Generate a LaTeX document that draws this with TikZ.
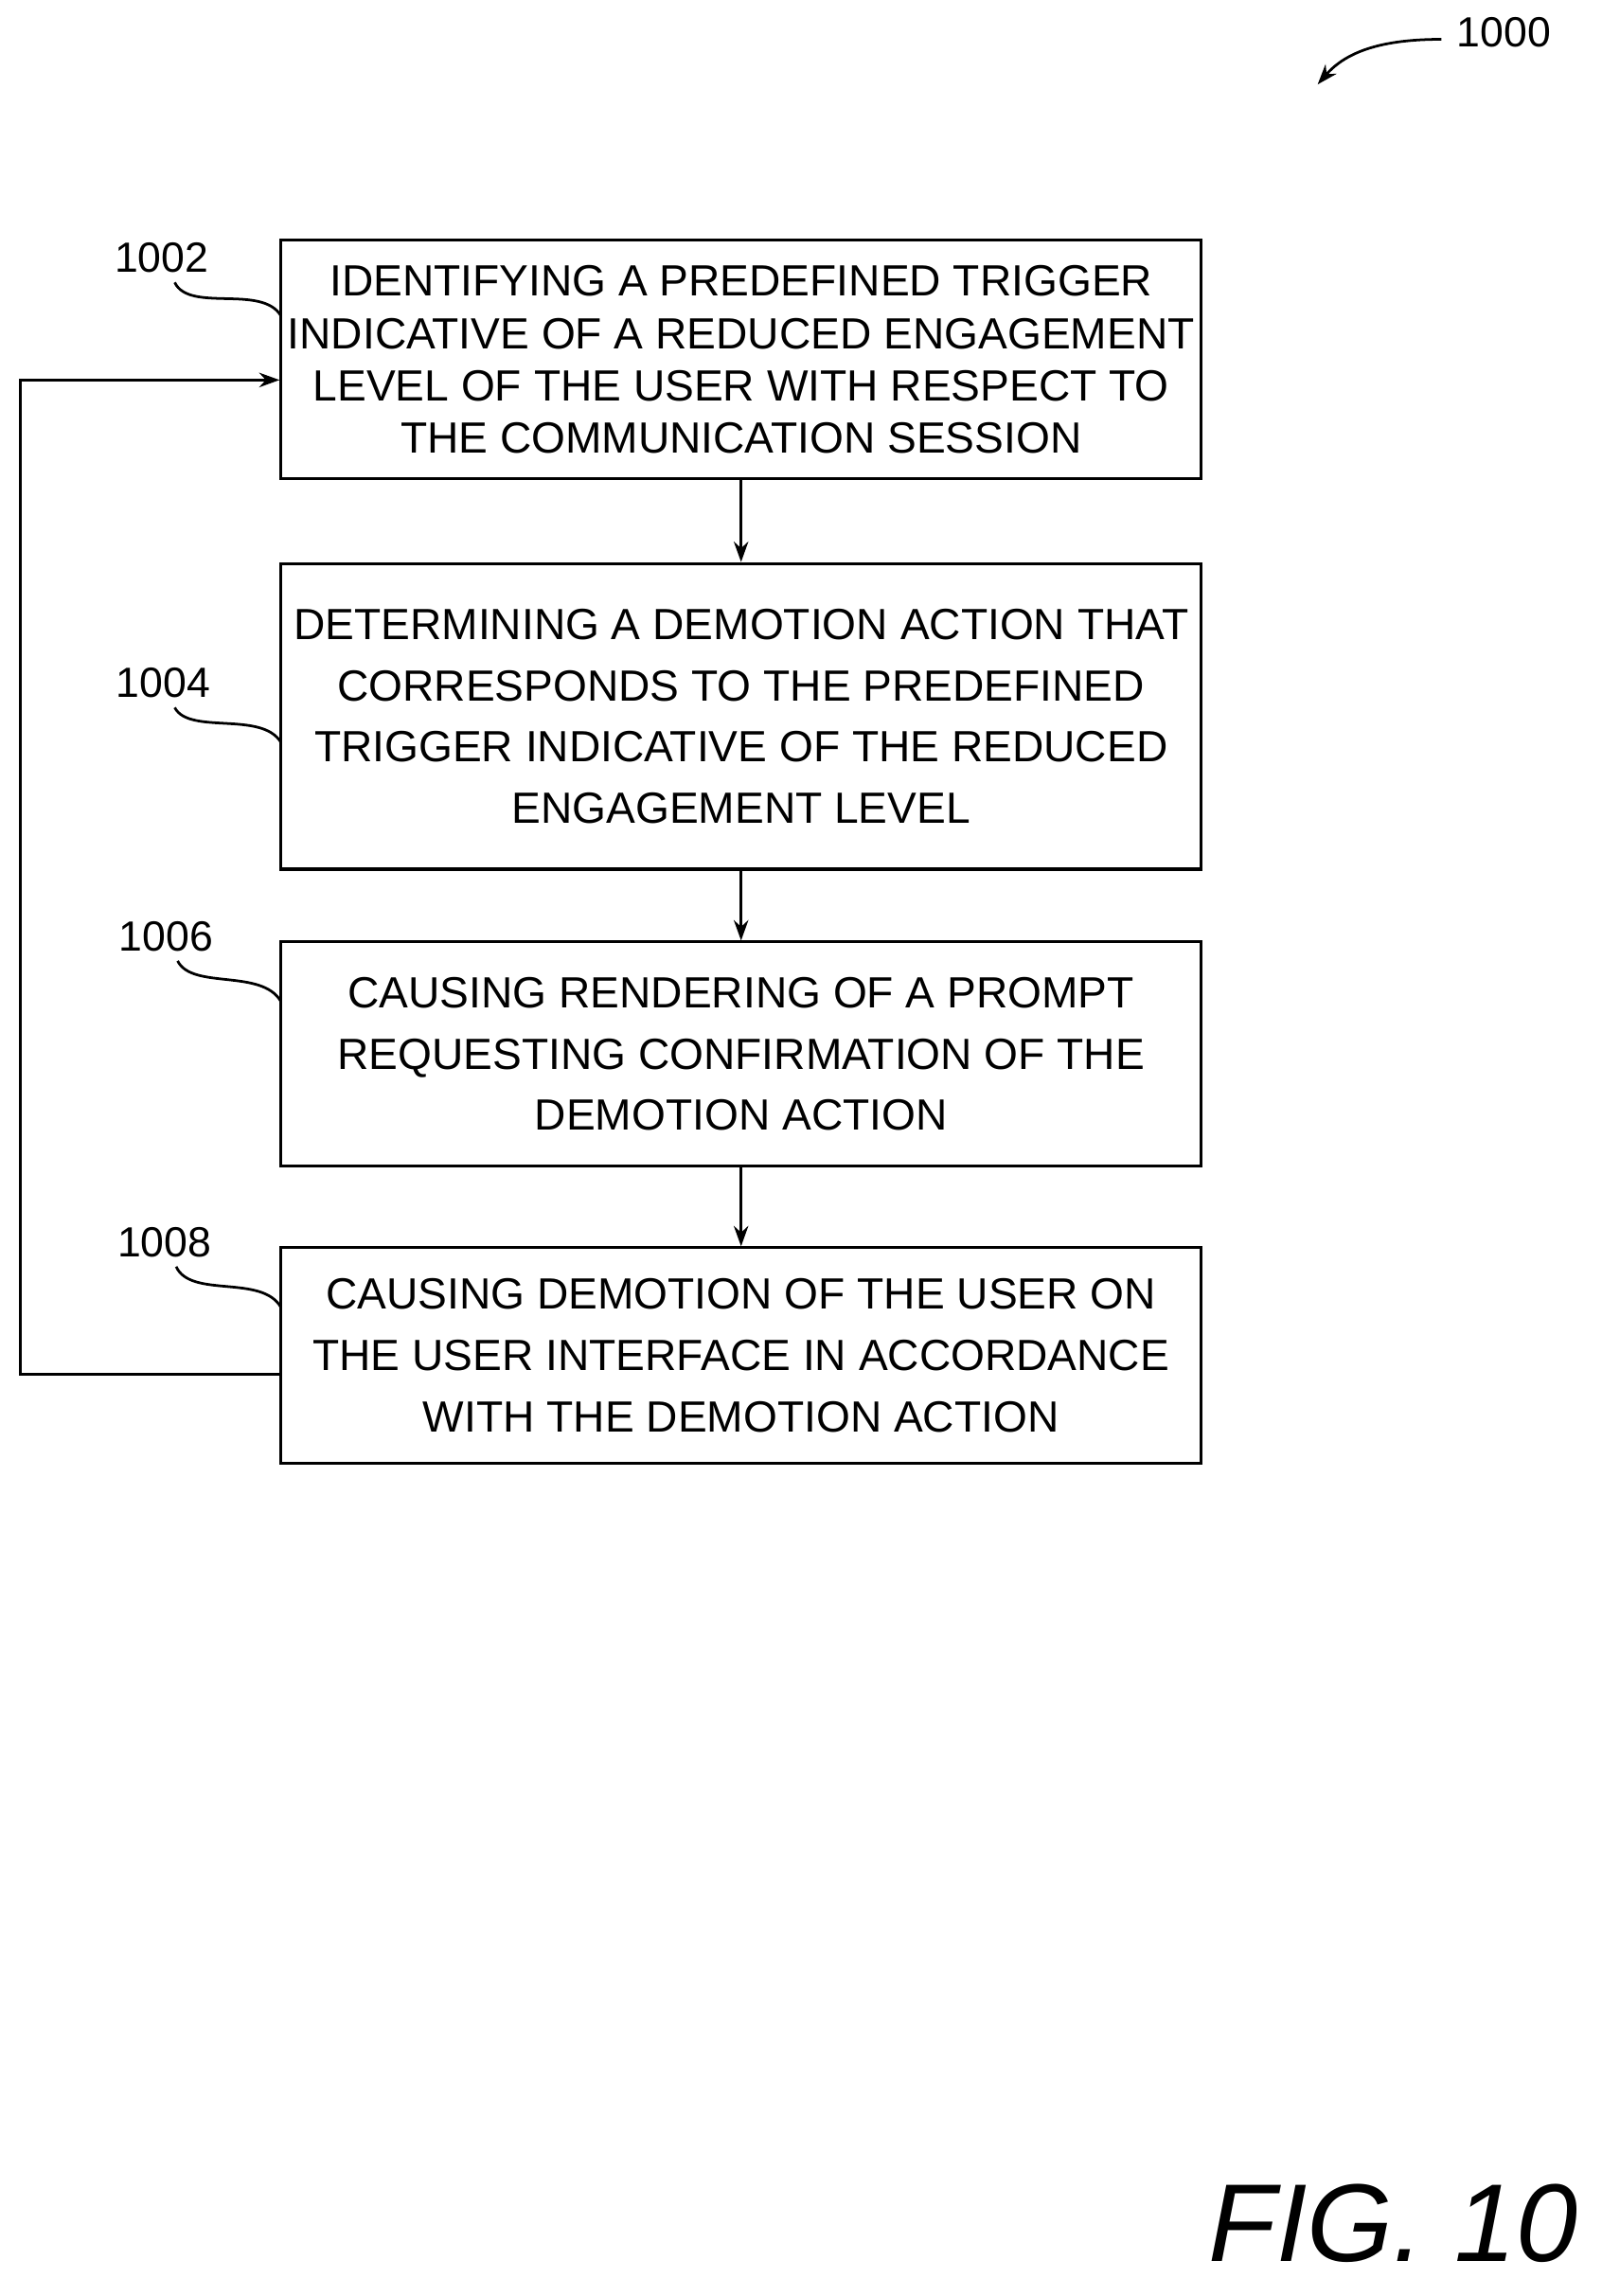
\documentclass[tikz,border=0pt]{standalone}
\usepackage{fontspec}
\setmainfont{Liberation Sans}
\usetikzlibrary{arrows.meta}
\begin{document}
\begin{tikzpicture}[x=0.5pt,y=-0.5pt,
  box/.style={draw,line width=1pt,minimum width=316pt,align=center,font=\fontsize{15}{21}\selectfont,inner sep=0pt},
  lbl/.style={font=\fontsize{14.5}{16}\selectfont},
  arr/.style={-{Stealth[length=7pt,width=5pt]},line width=0.9pt},
  sq/.style={line width=0.9pt}]
\useasboundingbox (0,0) rectangle (1100,1577);
\node[box,minimum height=82pt,font=\fontsize{15}{18}\selectfont] (b1) at (509,247) {IDENTIFYING A PREDEFINED TRIGGER\\INDICATIVE OF A REDUCED ENGAGEMENT\\LEVEL OF THE USER WITH RESPECT TO\\THE COMMUNICATION SESSION};
\node[box,minimum height=105pt] (b2) at (509,492) {DETERMINING A DEMOTION ACTION THAT\\CORRESPONDS TO THE PREDEFINED\\TRIGGER INDICATIVE OF THE REDUCED\\ENGAGEMENT LEVEL};
\node[box,minimum height=77pt] (b3) at (509,724) {CAUSING RENDERING OF A PROMPT\\REQUESTING CONFIRMATION OF THE\\DEMOTION ACTION};
\node[box,minimum height=74pt] (b4) at (509,931) {CAUSING DEMOTION OF THE USER ON\\THE USER INTERFACE IN ACCORDANCE\\WITH THE DEMOTION ACTION};
\draw[arr] (b1) -- (b2);
\draw[arr] (b2) -- (b3);
\draw[arr] (b3) -- (b4);
\coordinate (c1) at (14,944);
\coordinate (c2) at (14,261);
\draw[arr] (b4.west |- c1) -- (c1) -- (c2) -- (b1.west |- c2);
\node[lbl] (l1) at (111,177) {1002};
\node[lbl] (l2) at (112,469) {1004};
\node[lbl] (l3) at (114,643) {1006};
\node[lbl] (l4) at (113,853) {1008};
\draw[sq] (120,194) .. controls (130,215) and (180,195) .. (193,217);
\draw[sq] (120,486) .. controls (130,505) and (180,488) .. (193,510);
\draw[sq] (122,660) .. controls (132,680) and (180,665) .. (193,688);
\draw[sq] (121,870) .. controls (131,892) and (180,875) .. (193,898);
\node[lbl] (l0) at (1033,22) {1000};
\coordinate (a0) at (905,58);
\draw[arr] (990,27) .. controls (950,27) and (925,35) .. (a0);
\node[font=\fontsize{38}{38}\selectfont\itshape] (fig) at (957,1527) {FIG. 10};
\end{tikzpicture}
\end{document}
